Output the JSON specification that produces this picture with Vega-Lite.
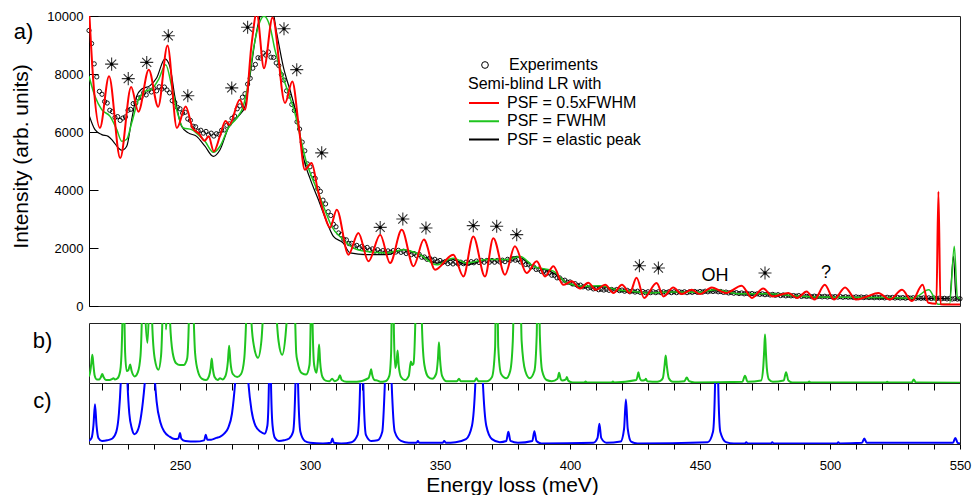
{
"$schema": "https://vega.github.io/schema/vega-lite/v6.json",
"padding": {"left": 10, "top": 9, "right": 12, "bottom": 4},
"background": "white",
"config": {
  "font": "Liberation Sans",
  "view": {"stroke": "#222", "strokeWidth": 1},
  "axis": {"grid": false, "labelColor": "#000", "titleColor": "#000", "tickColor": "#000", "domainColor": "#000", "labelFontSize": 13, "titleFontWeight": "normal"},
  "legend": {"labelColor": "#000", "titleColor": "#000", "labelFontSize": 16, "titleFontSize": 16, "titleFontWeight": "normal", "padding": 0}
},
"datasets": {
"exp": [{"E":215,"I":9500},{"E":216,"I":9050},{"E":217,"I":8350},{"E":218,"I":7900},{"E":219,"I":7400},{"E":220,"I":7300},{"E":221,"I":7050},{"E":222,"I":7000},{"E":223,"I":6750},{"E":224,"I":6700},{"E":225,"I":6500},{"E":226,"I":6530},{"E":227,"I":6400},{"E":228,"I":6480},{"E":229,"I":6520},{"E":230,"I":6750},{"E":231,"I":6780},{"E":232,"I":6980},{"E":233,"I":7000},{"E":234,"I":7170},{"E":235,"I":7200},{"E":236,"I":7350},{"E":237,"I":7280},{"E":238,"I":7450},{"E":239,"I":7380},{"E":240,"I":7500},{"E":241,"I":7420},{"E":242,"I":7560},{"E":243,"I":7480},{"E":244,"I":7550},{"E":245,"I":7450},{"E":246,"I":7350},{"E":247,"I":7080},{"E":248,"I":7020},{"E":249,"I":6850},{"E":250,"I":6800},{"E":251,"I":6650},{"E":252,"I":6680},{"E":253,"I":6450},{"E":254,"I":6400},{"E":255,"I":6200},{"E":256,"I":6180},{"E":257,"I":6030},{"E":258,"I":6060},{"E":259,"I":5960},{"E":260,"I":6020},{"E":261,"I":5900},{"E":262,"I":5960},{"E":263,"I":5860},{"E":264,"I":5940},{"E":265,"I":5920},{"E":266,"I":6060},{"E":267,"I":6070},{"E":268,"I":6230},{"E":269,"I":6280},{"E":270,"I":6470},{"E":271,"I":6550},{"E":272,"I":6800},{"E":273,"I":6900},{"E":274,"I":7200},{"E":275,"I":7320},{"E":276,"I":7650},{"E":277,"I":7850},{"E":278,"I":8200},{"E":279,"I":8330},{"E":280,"I":8560},{"E":281,"I":8550},{"E":282,"I":8720},{"E":283,"I":8650},{"E":284,"I":8760},{"E":285,"I":8580},{"E":286,"I":8570},{"E":287,"I":8380},{"E":288,"I":8290},{"E":289,"I":7980},{"E":290,"I":7790},{"E":291,"I":7420},{"E":292,"I":7240},{"E":293,"I":6950},{"E":294,"I":6740},{"E":295,"I":6350},{"E":296,"I":6100},{"E":297,"I":5650},{"E":298,"I":5350},{"E":299,"I":4900},{"E":300,"I":4800},{"E":301,"I":4530},{"E":302,"I":4400},{"E":303,"I":4050},{"E":304,"I":3950},{"E":305,"I":3650},{"E":306,"I":3520},{"E":307,"I":3250},{"E":308,"I":3120},{"E":309,"I":2820},{"E":310,"I":2730},{"E":311,"I":2520},{"E":312,"I":2460},{"E":313,"I":2300},{"E":314,"I":2280},{"E":315,"I":2150},{"E":316,"I":2160},{"E":317,"I":2060},{"E":318,"I":2090},{"E":319,"I":2010},{"E":320,"I":2060},{"E":321,"I":1970},{"E":322,"I":2020},{"E":323,"I":1930},{"E":324,"I":1970},{"E":325,"I":1890},{"E":326,"I":1940},{"E":327,"I":1860},{"E":328,"I":1910},{"E":329,"I":1850},{"E":330,"I":1900},{"E":331,"I":1850},{"E":332,"I":1910},{"E":333,"I":1860},{"E":334,"I":1920},{"E":335,"I":1850},{"E":336,"I":1890},{"E":337,"I":1810},{"E":338,"I":1850},{"E":339,"I":1770},{"E":340,"I":1810},{"E":341,"I":1740},{"E":342,"I":1780},{"E":343,"I":1680},{"E":344,"I":1690},{"E":345,"I":1610},{"E":346,"I":1650},{"E":347,"I":1580},{"E":348,"I":1610},{"E":349,"I":1540},{"E":350,"I":1570},{"E":351,"I":1500},{"E":352,"I":1530},{"E":353,"I":1460},{"E":354,"I":1510},{"E":355,"I":1450},{"E":356,"I":1510},{"E":357,"I":1450},{"E":358,"I":1510},{"E":359,"I":1460},{"E":360,"I":1510},{"E":361,"I":1470},{"E":362,"I":1530},{"E":363,"I":1490},{"E":364,"I":1550},{"E":365,"I":1500},{"E":366,"I":1570},{"E":367,"I":1510},{"E":368,"I":1570},{"E":369,"I":1510},{"E":370,"I":1570},{"E":371,"I":1510},{"E":372,"I":1570},{"E":373,"I":1520},{"E":374,"I":1580},{"E":375,"I":1530},{"E":376,"I":1610},{"E":377,"I":1570},{"E":378,"I":1630},{"E":379,"I":1580},{"E":380,"I":1600},{"E":381,"I":1520},{"E":382,"I":1520},{"E":383,"I":1430},{"E":384,"I":1440},{"E":385,"I":1350},{"E":386,"I":1350},{"E":387,"I":1260},{"E":388,"I":1270},{"E":389,"I":1190},{"E":390,"I":1200},{"E":391,"I":1130},{"E":392,"I":1140},{"E":393,"I":1060},{"E":394,"I":1060},{"E":395,"I":970},{"E":396,"I":970},{"E":397,"I":890},{"E":398,"I":890},{"E":399,"I":820},{"E":400,"I":830},{"E":401,"I":760},{"E":402,"I":770},{"E":403,"I":700},{"E":404,"I":720},{"E":405,"I":660},{"E":406,"I":680},{"E":407,"I":620},{"E":408,"I":640},{"E":409,"I":590},{"E":410,"I":600},{"E":411,"I":560},{"E":412,"I":580},{"E":413,"I":550},{"E":414,"I":580},{"E":415,"I":540},{"E":416,"I":570},{"E":417,"I":540},{"E":418,"I":570},{"E":419,"I":530},{"E":420,"I":550},{"E":421,"I":510},{"E":422,"I":540},{"E":423,"I":490},{"E":424,"I":520},{"E":425,"I":480},{"E":426,"I":510},{"E":427,"I":470},{"E":428,"I":500},{"E":429,"I":460},{"E":430,"I":490},{"E":431,"I":460},{"E":432,"I":490},{"E":433,"I":460},{"E":434,"I":490},{"E":435,"I":460},{"E":436,"I":490},{"E":437,"I":460},{"E":438,"I":490},{"E":439,"I":460},{"E":440,"I":490},{"E":441,"I":460},{"E":442,"I":490},{"E":443,"I":470},{"E":444,"I":490},{"E":445,"I":460},{"E":446,"I":490},{"E":447,"I":470},{"E":448,"I":500},{"E":449,"I":470},{"E":450,"I":500},{"E":451,"I":480},{"E":452,"I":510},{"E":453,"I":490},{"E":454,"I":520},{"E":455,"I":500},{"E":456,"I":520},{"E":457,"I":490},{"E":458,"I":500},{"E":459,"I":470},{"E":460,"I":480},{"E":461,"I":450},{"E":462,"I":470},{"E":463,"I":440},{"E":464,"I":460},{"E":465,"I":430},{"E":466,"I":450},{"E":467,"I":420},{"E":468,"I":440},{"E":469,"I":410},{"E":470,"I":430},{"E":471,"I":400},{"E":472,"I":420},{"E":473,"I":400},{"E":474,"I":420},{"E":475,"I":390},{"E":476,"I":410},{"E":477,"I":380},{"E":478,"I":400},{"E":479,"I":370},{"E":480,"I":390},{"E":481,"I":360},{"E":482,"I":380},{"E":483,"I":350},{"E":484,"I":370},{"E":485,"I":350},{"E":486,"I":360},{"E":487,"I":340},{"E":488,"I":360},{"E":489,"I":330},{"E":490,"I":350},{"E":491,"I":330},{"E":492,"I":345},{"E":493,"I":320},{"E":494,"I":340},{"E":495,"I":320},{"E":496,"I":335},{"E":497,"I":315},{"E":498,"I":335},{"E":499,"I":310},{"E":500,"I":330},{"E":501,"I":310},{"E":502,"I":325},{"E":503,"I":305},{"E":504,"I":325},{"E":505,"I":300},{"E":506,"I":320},{"E":507,"I":300},{"E":508,"I":315},{"E":509,"I":295},{"E":510,"I":315},{"E":511,"I":295},{"E":512,"I":310},{"E":513,"I":290},{"E":514,"I":310},{"E":515,"I":290},{"E":516,"I":305},{"E":517,"I":285},{"E":518,"I":305},{"E":519,"I":285},{"E":520,"I":300},{"E":521,"I":280},{"E":522,"I":300},{"E":523,"I":280},{"E":524,"I":295},{"E":525,"I":275},{"E":526,"I":295},{"E":527,"I":275},{"E":528,"I":290},{"E":529,"I":270},{"E":530,"I":290},{"E":531,"I":270},{"E":532,"I":285},{"E":533,"I":265},{"E":534,"I":285},{"E":535,"I":265},{"E":536,"I":280},{"E":537,"I":260},{"E":538,"I":280},{"E":539,"I":260},{"E":540,"I":275},{"E":541,"I":255},{"E":542,"I":270},{"E":543,"I":250},{"E":544,"I":265},{"E":545,"I":245},{"E":546,"I":260},{"E":547,"I":240},{"E":548,"I":255},{"E":549,"I":240},{"E":550,"I":250}],
"red": [{"E":215,"I":10300},{"E":216.7,"I":7700},{"E":219.2,"I":6140},{"E":222.7,"I":7920},{"E":227,"I":5100},{"E":231.2,"I":7550},{"E":234,"I":6700},{"E":238,"I":8150},{"E":241.6,"I":6870},{"E":245.2,"I":8980},{"E":248.8,"I":6140},{"E":252.2,"I":6880},{"E":254.8,"I":6150},{"E":257.3,"I":5950},{"E":259.5,"I":5700},{"E":261,"I":5850},{"E":263,"I":5330},{"E":265.5,"I":5900},{"E":267.5,"I":6380},{"E":269,"I":6250},{"E":273,"I":7110},{"E":275,"I":6770},{"E":277.5,"I":9000},{"E":279.5,"I":10100},{"E":282.3,"I":8200},{"E":285.6,"I":9950},{"E":290.4,"I":7000},{"E":293.2,"I":7740},{"E":295.8,"I":6100},{"E":298,"I":4700},{"E":300.6,"I":4930},{"E":303,"I":4000},{"E":305.5,"I":3150},{"E":307.7,"I":2700},{"E":310.3,"I":3320},{"E":314.8,"I":1770},{"E":318.6,"I":2520},{"E":322.5,"I":1540},{"E":327,"I":2460},{"E":330.8,"I":1480},{"E":335.3,"I":2630},{"E":339.8,"I":1370},{"E":343.8,"I":2290},{"E":348.1,"I":1250},{"E":355.1,"I":1770},{"E":359,"I":1020},{"E":362.8,"I":2400},{"E":367.3,"I":1020},{"E":370.5,"I":2340},{"E":375,"I":1080},{"E":378.8,"I":2060},{"E":383.3,"I":1140},{"E":387.2,"I":1540},{"E":390.4,"I":1020},{"E":393.6,"I":1370},{"E":397.4,"I":730},{"E":400.7,"I":850},{"E":403.8,"I":600},{"E":407,"I":800},{"E":410,"I":560},{"E":413.5,"I":730},{"E":416.7,"I":450},{"E":420,"I":730},{"E":423,"I":450},{"E":425.6,"I":970},{"E":428.5,"I":280},{"E":433.3,"I":790},{"E":436,"I":330},{"E":439.7,"I":640},{"E":443,"I":410},{"E":446.8,"I":560},{"E":450,"I":410},{"E":454.5,"I":640},{"E":460,"I":450},{"E":466,"I":700},{"E":470,"I":280},{"E":474.3,"I":600},{"E":478,"I":330},{"E":484,"I":450},{"E":487.4,"I":280},{"E":491,"I":500},{"E":494,"I":220},{"E":498,"I":730},{"E":501.5,"I":220},{"E":505.8,"I":640},{"E":510,"I":220},{"E":514,"I":320},{"E":518.6,"I":450},{"E":523,"I":220},{"E":527.7,"I":560},{"E":531.5,"I":170},{"E":535.6,"I":730},{"E":537.8,"I":110},{"E":540.9,"I":80},{"E":541.7,"I":3950},{"E":542.5,"I":60},{"E":545,"I":50},{"E":550,"I":50}],
"green": [{"E":215,"I":7920},{"E":217.3,"I":7230},{"E":219.9,"I":6770},{"E":223.1,"I":6540},{"E":225.7,"I":6080},{"E":227.6,"I":5680},{"E":229.5,"I":5750},{"E":231.4,"I":6310},{"E":234,"I":7110},{"E":236.5,"I":7400},{"E":239.1,"I":7480},{"E":241.7,"I":7800},{"E":244.5,"I":8320},{"E":246.8,"I":7570},{"E":248.7,"I":6770},{"E":251.3,"I":6140},{"E":254.5,"I":6080},{"E":257,"I":5910},{"E":259.6,"I":5680},{"E":262.8,"I":5300},{"E":265.4,"I":5510},{"E":268.6,"I":6140},{"E":271.8,"I":6480},{"E":274.3,"I":6880},{"E":276.3,"I":7690},{"E":278.2,"I":8840},{"E":280.1,"I":9640},{"E":282.3,"I":9990},{"E":284.6,"I":9640},{"E":286.5,"I":8840},{"E":289.1,"I":8030},{"E":291.7,"I":7340},{"E":294.2,"I":6650},{"E":296.8,"I":5620},{"E":298.7,"I":4930},{"E":300.6,"I":4470},{"E":303.2,"I":3900},{"E":306,"I":3250},{"E":308.3,"I":2750},{"E":312.8,"I":2290},{"E":316.7,"I":2000},{"E":321.8,"I":1880},{"E":329.5,"I":1830},{"E":335.9,"I":1940},{"E":342.3,"I":1770},{"E":348.7,"I":1420},{"E":355.1,"I":1650},{"E":360.3,"I":1480},{"E":368,"I":1600},{"E":375.6,"I":1600},{"E":380.8,"I":1710},{"E":385.9,"I":1370},{"E":393.6,"I":1200},{"E":398.7,"I":800},{"E":405,"I":680},{"E":411.5,"I":700},{"E":418,"I":560},{"E":424.3,"I":500},{"E":429.5,"I":450},{"E":440,"I":480},{"E":450,"I":470},{"E":456,"I":560},{"E":465,"I":420},{"E":475,"I":420},{"E":490,"I":330},{"E":505,"I":300},{"E":520,"I":290},{"E":532,"I":270},{"E":538,"I":560},{"E":540,"I":300},{"E":541.5,"I":60},{"E":546,"I":60},{"E":547.8,"I":2060},{"E":549,"I":300},{"E":550,"I":250}],
"black": [{"E":215,"I":6590},{"E":217.3,"I":6080},{"E":219.9,"I":5910},{"E":222.4,"I":5850},{"E":224.3,"I":5680},{"E":226.3,"I":5450},{"E":227.6,"I":5370},{"E":229.5,"I":5510},{"E":231.4,"I":6420},{"E":233.3,"I":7230},{"E":235.3,"I":7480},{"E":238.5,"I":7600},{"E":241,"I":7860},{"E":244.2,"I":8520},{"E":246.1,"I":8260},{"E":248,"I":7230},{"E":250.6,"I":6200},{"E":253.2,"I":5970},{"E":256.4,"I":5850},{"E":259.6,"I":5510},{"E":262.8,"I":5160},{"E":265.4,"I":5390},{"E":268.6,"I":6140},{"E":272.4,"I":6540},{"E":275,"I":6880},{"E":276.9,"I":7920},{"E":278.9,"I":9180},{"E":280.8,"I":10000},{"E":283,"I":10400},{"E":285.3,"I":10300},{"E":287.2,"I":9410},{"E":289.7,"I":8260},{"E":293,"I":7230},{"E":295.5,"I":6310},{"E":297.4,"I":5160},{"E":300,"I":4400},{"E":303.2,"I":3670},{"E":306,"I":3000},{"E":309,"I":2400},{"E":312.8,"I":2170},{"E":315.4,"I":1830},{"E":321.8,"I":1770},{"E":329.5,"I":1770},{"E":335.9,"I":1940},{"E":342.3,"I":1770},{"E":348.7,"I":1480},{"E":355.1,"I":1600},{"E":360.3,"I":1420},{"E":368,"I":1600},{"E":375.6,"I":1600},{"E":379.5,"I":1710},{"E":385.9,"I":1370},{"E":393.6,"I":1140},{"E":398.7,"I":800},{"E":405,"I":650},{"E":411.5,"I":680},{"E":418,"I":540},{"E":424.3,"I":480},{"E":430,"I":460},{"E":440,"I":480},{"E":450,"I":460},{"E":456,"I":530},{"E":465,"I":420},{"E":475,"I":420},{"E":490,"I":320},{"E":505,"I":290},{"E":520,"I":270},{"E":535,"I":250},{"E":540,"I":260},{"E":546,"I":250},{"E":547.5,"I":1710},{"E":548.5,"I":250},{"E":550,"I":240}],
"stars": [{"E":223.7,"I":8340},{"E":230.1,"I":7840},{"E":237.2,"I":8400},{"E":245.5,"I":9320},{"E":253,"I":7250},{"E":269.9,"I":7520},{"E":276,"I":9610},{"E":290,"I":9560},{"E":294.9,"I":8150},{"E":304.5,"I":5280},{"E":327,"I":2710},{"E":335.7,"I":3000},{"E":344.6,"I":2690},{"E":362.8,"I":2770},{"E":371.8,"I":2750},{"E":379.5,"I":2460},{"E":426.7,"I":1390},{"E":434,"I":1310},{"E":475,"I":1140}],
"notes": [{"E":455.8,"I":1020,"t":"OH"},{"E":498.5,"I":1140,"t":"?"}],
"peaksB": [{"E":215,"S":0.11},{"E":215.5,"S":0.2},{"E":215.9,"S":0.33},{"E":216.3,"S":0.47},{"E":216.7,"S":0.3},{"E":217.2,"S":0.12},{"E":218,"S":0.06},{"E":219,"S":0.06},{"E":219.6,"S":0.1},{"E":220.1,"S":0.15},{"E":220.6,"S":0.1},{"E":221.5,"S":0.05},{"E":223,"S":0.05},{"E":224,"S":0.07},{"E":224.4,"S":0.08},{"E":225,"S":0.06},{"E":226,"S":0.08},{"E":227,"S":0.2},{"E":227.6,"S":0.6},{"E":228,"S":1.5},{"E":228.2,"S":2.5},{"E":228.5,"S":1.5},{"E":228.9,"S":0.5},{"E":229.5,"S":0.2},{"E":230.2,"S":0.22},{"E":230.8,"S":0.31},{"E":231.4,"S":0.2},{"E":232.6,"S":0.11},{"E":233.8,"S":0.18},{"E":234.8,"S":0.45},{"E":235.4,"S":1.2},{"E":235.9,"S":2.5},{"E":236.6,"S":1.2},{"E":237.5,"S":0.67},{"E":238.1,"S":1.3},{"E":238.7,"S":2.5},{"E":239.3,"S":1},{"E":240.3,"S":0.4},{"E":241.7,"S":0.22},{"E":242.7,"S":0.45},{"E":243.3,"S":1.2},{"E":243.8,"S":2.5},{"E":244.6,"S":0.89},{"E":245.1,"S":1.3},{"E":245.6,"S":2},{"E":246.2,"S":1},{"E":247.2,"S":0.5},{"E":248.5,"S":0.33},{"E":250,"S":0.3},{"E":251.5,"S":0.3},{"E":252.1,"S":0.33},{"E":252.8,"S":0.42},{"E":253.5,"S":1.2},{"E":254.2,"S":3},{"E":255,"S":1.5},{"E":255.8,"S":0.5},{"E":257,"S":0.18},{"E":258.5,"S":0.07},{"E":260,"S":0.05},{"E":261.2,"S":0.12},{"E":261.8,"S":0.25},{"E":262.2,"S":0.41},{"E":262.6,"S":0.25},{"E":263.3,"S":0.1},{"E":264.5,"S":0.05},{"E":265.4,"S":0.08},{"E":266.3,"S":0.06},{"E":267.5,"S":0.12},{"E":268.4,"S":0.35},{"E":268.9,"S":0.62},{"E":269.4,"S":0.35},{"E":270.3,"S":0.15},{"E":272,"S":0.1},{"E":273.5,"S":0.15},{"E":274.7,"S":0.4},{"E":275.4,"S":1},{"E":276.3,"S":2.5},{"E":277.5,"S":1},{"E":278.5,"S":0.6},{"E":280,"S":0.42},{"E":281.3,"S":0.7},{"E":282,"S":1.2},{"E":283.5,"S":3},{"E":285.3,"S":3},{"E":287,"S":1.2},{"E":287.9,"S":0.7},{"E":289.3,"S":0.47},{"E":290.6,"S":0.8},{"E":291.4,"S":1.3},{"E":292.8,"S":3},{"E":294.2,"S":1.2},{"E":294.7,"S":0.5},{"E":295.2,"S":0.36},{"E":296,"S":0.22},{"E":297,"S":0.16},{"E":298.5,"S":0.14},{"E":299.8,"S":0.3},{"E":300.3,"S":1.2},{"E":300.6,"S":2.5},{"E":300.9,"S":1.2},{"E":301.6,"S":0.3},{"E":302.5,"S":0.17},{"E":303.1,"S":0.4},{"E":303.5,"S":0.64},{"E":303.9,"S":0.35},{"E":304.8,"S":0.1},{"E":306,"S":0.04},{"E":307.5,"S":0.03},{"E":308.5,"S":0.07},{"E":309.5,"S":0.03},{"E":310.8,"S":0.06},{"E":311.5,"S":0.13},{"E":312.2,"S":0.05},{"E":314,"S":0.02},{"E":318,"S":0.02},{"E":322.5,"S":0.08},{"E":323.1,"S":0.16},{"E":323.5,"S":0.23},{"E":323.9,"S":0.14},{"E":324.8,"S":0.05},{"E":326,"S":0.04},{"E":327,"S":0.02},{"E":329,"S":0.03},{"E":330.5,"S":0.12},{"E":331.2,"S":0.5},{"E":331.8,"S":2.5},{"E":332.3,"S":0.8},{"E":332.8,"S":0.25},{"E":333.3,"S":0.35},{"E":333.7,"S":0.54},{"E":334.1,"S":0.3},{"E":335,"S":0.1},{"E":336.5,"S":0.05},{"E":338,"S":0.12},{"E":338.8,"S":0.36},{"E":339.3,"S":0.3},{"E":339.8,"S":0.32},{"E":340.5,"S":1},{"E":341.3,"S":3},{"E":342.3,"S":3},{"E":343.1,"S":0.9},{"E":344,"S":0.3},{"E":345.5,"S":0.1},{"E":347,"S":0.07},{"E":348.5,"S":0.15},{"E":349.2,"S":0.4},{"E":349.6,"S":0.68},{"E":350,"S":0.4},{"E":350.8,"S":0.12},{"E":352.5,"S":0.03},{"E":356.5,"S":0.03},{"E":357.3,"S":0.07},{"E":358,"S":0.03},{"E":363.3,"S":0.03},{"E":364,"S":0.08},{"E":364.7,"S":0.03},{"E":368,"S":0.03},{"E":370,"S":0.1},{"E":371.2,"S":0.6},{"E":371.8,"S":3},{"E":372.4,"S":0.6},{"E":373.5,"S":0.15},{"E":375.5,"S":0.08},{"E":377,"S":0.2},{"E":378,"S":0.7},{"E":379.2,"S":3},{"E":380.4,"S":3},{"E":381.4,"S":0.7},{"E":382.8,"S":0.2},{"E":384.5,"S":0.08},{"E":386.3,"S":0.2},{"E":387.2,"S":0.8},{"E":387.8,"S":3},{"E":388.4,"S":0.8},{"E":389.3,"S":0.2},{"E":391,"S":0.05},{"E":393,"S":0.03},{"E":395.2,"S":0.07},{"E":395.8,"S":0.17},{"E":396.4,"S":0.07},{"E":397,"S":0.04},{"E":398.4,"S":0.06},{"E":398.8,"S":0.1},{"E":399.3,"S":0.04},{"E":401,"S":0.01},{"E":405.5,"S":0.01},{"E":406,"S":0.025},{"E":406.5,"S":0.01},{"E":416,"S":0.01},{"E":416.5,"S":0.025},{"E":417,"S":0.01},{"E":425.5,"S":0.05},{"E":426,"S":0.12},{"E":426.3,"S":0.18},{"E":426.7,"S":0.1},{"E":427.6,"S":0.04},{"E":428.8,"S":0.05},{"E":429.2,"S":0.07},{"E":429.7,"S":0.03},{"E":433.6,"S":0.02},{"E":434.5,"S":0.03},{"E":435.7,"S":0.08},{"E":436.4,"S":0.3},{"E":436.8,"S":0.46},{"E":437.2,"S":0.3},{"E":438,"S":0.08},{"E":439.5,"S":0.02},{"E":444,"S":0.03},{"E":444.9,"S":0.09},{"E":445.8,"S":0.03},{"E":448,"S":0.01},{"E":466.3,"S":0.02},{"E":467.3,"S":0.12},{"E":468.3,"S":0.02},{"E":473.5,"S":0.04},{"E":474.3,"S":0.25},{"E":474.7,"S":0.55},{"E":475,"S":0.81},{"E":475.3,"S":0.55},{"E":475.7,"S":0.25},{"E":476.5,"S":0.06},{"E":478,"S":0.02},{"E":482.2,"S":0.04},{"E":483.1,"S":0.18},{"E":484,"S":0.04},{"E":485.5,"S":0.01},{"E":491.5,"S":0.01},{"E":492,"S":0.025},{"E":492.5,"S":0.01},{"E":521.5,"S":0.01},{"E":522,"S":0.02},{"E":522.5,"S":0.01},{"E":531.5,"S":0.01},{"E":532.2,"S":0.06},{"E":533,"S":0.01},{"E":550,"S":0.005}],
"peaksC": [{"E":215,"S":0.05},{"E":216,"S":0.1},{"E":216.7,"S":0.3},{"E":217.3,"S":0.65},{"E":217.9,"S":0.3},{"E":218.6,"S":0.1},{"E":220,"S":0.05},{"E":222,"S":0.06},{"E":224,"S":0.09},{"E":225.5,"S":0.2},{"E":226.5,"S":0.5},{"E":227.2,"S":1},{"E":228.5,"S":3},{"E":229.8,"S":1},{"E":230.5,"S":0.5},{"E":231.5,"S":0.25},{"E":232.5,"S":0.16},{"E":233.5,"S":0.2},{"E":234.8,"S":0.4},{"E":236,"S":0.8},{"E":236.8,"S":1.2},{"E":238.5,"S":3},{"E":240.1,"S":1.2},{"E":241,"S":0.7},{"E":242.5,"S":0.35},{"E":244,"S":0.2},{"E":246,"S":0.12},{"E":248,"S":0.08},{"E":249.4,"S":0.09},{"E":250,"S":0.18},{"E":250.5,"S":0.09},{"E":252,"S":0.05},{"E":256,"S":0.04},{"E":259.3,"S":0.06},{"E":259.9,"S":0.15},{"E":260.5,"S":0.07},{"E":262,"S":0.07},{"E":264,"S":0.1},{"E":265.5,"S":0.12},{"E":267,"S":0.17},{"E":268.5,"S":0.26},{"E":270,"S":0.5},{"E":271.2,"S":1},{"E":273.8,"S":3},{"E":276.3,"S":1},{"E":277.5,"S":0.55},{"E":279,"S":0.3},{"E":281,"S":0.2},{"E":282.5,"S":0.17},{"E":283.6,"S":0.3},{"E":284.2,"S":1},{"E":284.6,"S":3},{"E":285,"S":1},{"E":285.6,"S":0.3},{"E":286.5,"S":0.1},{"E":288,"S":0.05},{"E":290,"S":0.06},{"E":292,"S":0.09},{"E":293.5,"S":0.2},{"E":294.4,"S":1},{"E":294.9,"S":3},{"E":295.4,"S":1},{"E":296.3,"S":0.2},{"E":298,"S":0.05},{"E":300,"S":0.02},{"E":305,"S":0.01},{"E":308,"S":0.02},{"E":308.6,"S":0.09},{"E":309.2,"S":0.02},{"E":312,"S":0.01},{"E":316,"S":0.03},{"E":318.3,"S":0.15},{"E":319.3,"S":1},{"E":319.9,"S":3},{"E":320.5,"S":1},{"E":321.5,"S":0.15},{"E":323.5,"S":0.05},{"E":326,"S":0.06},{"E":327.8,"S":0.2},{"E":328.8,"S":1},{"E":330.1,"S":3},{"E":331.4,"S":1},{"E":332.6,"S":0.2},{"E":335,"S":0.05},{"E":338,"S":0.02},{"E":341,"S":0.02},{"E":341.5,"S":0.05},{"E":342,"S":0.02},{"E":351.1,"S":0.02},{"E":351.6,"S":0.05},{"E":352.2,"S":0.02},{"E":356,"S":0.03},{"E":360,"S":0.08},{"E":362.3,"S":0.3},{"E":363.6,"S":1},{"E":365,"S":3},{"E":366.5,"S":1},{"E":367.8,"S":0.3},{"E":370,"S":0.08},{"E":373,"S":0.03},{"E":375.5,"S":0.05},{"E":376.3,"S":0.2},{"E":377.1,"S":0.05},{"E":380,"S":0.02},{"E":385.5,"S":0.05},{"E":386.3,"S":0.21},{"E":387.1,"S":0.05},{"E":389,"S":0.01},{"E":409,"S":0.02},{"E":410.6,"S":0.1},{"E":411.3,"S":0.33},{"E":412,"S":0.1},{"E":414,"S":0.02},{"E":419.5,"S":0.04},{"E":420.8,"S":0.25},{"E":421.5,"S":0.73},{"E":422.2,"S":0.25},{"E":423.5,"S":0.04},{"E":426,"S":0.01},{"E":453,"S":0.03},{"E":455,"S":0.2},{"E":455.8,"S":1},{"E":456.4,"S":3},{"E":457,"S":1},{"E":457.8,"S":0.2},{"E":460,"S":0.03},{"E":463,"S":0.01},{"E":467.3,"S":0.01},{"E":467.8,"S":0.03},{"E":468.3,"S":0.01},{"E":477.3,"S":0.01},{"E":477.8,"S":0.03},{"E":478.3,"S":0.01},{"E":502.7,"S":0.01},{"E":503.2,"S":0.03},{"E":503.7,"S":0.01},{"E":512.3,"S":0.02},{"E":513.2,"S":0.09},{"E":514.1,"S":0.02},{"E":547.3,"S":0.02},{"E":548.2,"S":0.1},{"E":549.1,"S":0.02},{"E":550,"S":0.01}]
},
"spacing": 17,
"bounds": "flush",
"resolve": {"scale": {"x": "independent", "y": "independent"}, "axis": {"x": "independent", "y": "independent"}, "legend": {"color": "independent", "shape": "independent"}},
"vconcat": [
{
  "width": 871, "height": 290,
  "encoding": {
    "x": {"field": "E", "type": "quantitative", "scale": {"domain": [215, 550], "nice": false, "zero": false},
      "axis": {"orient": "top", "labels": false, "ticks": false, "domain": false, "title": "a)", "titleFontSize": 22, "titleAngle": 0, "titleX": -66, "titleY": 15, "titleAlign": "center", "titleBaseline": "middle"}},
    "y": {"field": "I", "type": "quantitative", "scale": {"domain": [0, 10000], "nice": false},
      "axis": {"values": [0, 2000, 4000, 6000, 8000, 10000], "tickSize": -9, "labelPadding": 15, "title": "Intensity (arb. units)", "titleFontSize": 21, "titlePadding": 15, "titleY": 140, "format": "d"}}
  },
  "layer": [
    {"data": {"name": "exp"},
     "mark": {"type": "point", "filled": false, "size": 18, "strokeWidth": 0.9, "color": "#000", "opacity": 1},
     "encoding": {"shape": {"datum": "Experiments", "type": "nominal", "scale": {"domain": ["Experiments"], "range": ["circle"]},
        "legend": {"orient": "none", "legendX": 388, "legendY": 41, "title": null, "symbolSize": 45, "symbolStrokeColor": "#000", "symbolFillColor": "transparent", "symbolStrokeWidth": 1, "labelOffset": 16}}}},
    {"data": {"name": "black"},
     "mark": {"type": "line", "clip": true, "interpolate": "monotone", "strokeWidth": 1.2},
     "encoding": {"color": {"datum": "PSF = elastic peak", "type": "nominal",
        "scale": {"domain": ["PSF = 0.5xFWHM", "PSF = FWHM", "PSF = elastic peak"], "range": ["#ff0000", "#1fc41f", "#000000"]},
        "legend": {"orient": "none", "legendX": 379, "legendY": 60, "title": "Semi-blind LR with", "titlePadding": 3, "symbolType": "stroke", "symbolSize": 900, "symbolStrokeWidth": 2, "clipHeight": 16, "labelOffset": 7, "rowPadding": 2.3, "titleLimit": 0, "labelLimit": 0}}}},
    {"data": {"name": "green"},
     "mark": {"type": "line", "clip": true, "interpolate": "monotone", "strokeWidth": 1.5},
     "encoding": {"color": {"datum": "PSF = FWHM", "type": "nominal"}}},
    {"data": {"name": "red"},
     "mark": {"type": "line", "clip": true, "interpolate": "monotone", "strokeWidth": 2},
     "encoding": {"color": {"datum": "PSF = 0.5xFWHM", "type": "nominal"}}},
    {"data": {"name": "stars"},
     "mark": {"type": "point", "shape": "M-1,0L1,0M0,-1L0,1M-0.7,-0.7L0.7,0.7M-0.7,0.7L0.7,-0.7", "size": 170, "filled": false, "stroke": "#333", "strokeWidth": 1.1, "opacity": 1}},
    {"data": {"name": "stars"},
     "mark": {"type": "circle", "size": 10, "color": "#000", "opacity": 1}},
    {"data": {"name": "notes"},
     "mark": {"type": "text", "fontSize": 18, "color": "#000", "baseline": "middle"},
     "encoding": {"text": {"field": "t"}}}
  ]
},
{
  "spacing": 0,
  "bounds": "flush",
  "resolve": {"scale": {"x": "independent", "y": "independent"}, "axis": {"x": "independent", "y": "independent"}},
  "vconcat": [
    {
      "width": 871, "height": 60,
      "data": {"name": "peaksB"},
      "mark": {"type": "line", "interpolate": "monotone", "clip": true, "color": "#1fc41f", "strokeWidth": 2},
      "encoding": {
        "x": {"field": "E", "type": "quantitative", "scale": {"domain": [215, 550], "nice": false, "zero": false},
          "axis": {"values": [220,230,240,250,260,270,280,290,300,310,320,330,340,350,360,370,380,390,400,410,420,430,440,450,460,470,480,490,500,510,520,530,540,550], "tickSize": 7, "labels": false, "domain": false, "title": null}},
        "y": {"field": "S", "type": "quantitative", "scale": {"domain": [0, 1], "nice": false},
          "axis": {"title": "b)", "labels": false, "ticks": false, "domain": false, "titleFontSize": 22, "titleAngle": 0, "titleX": -47, "titleY": 17, "titleAlign": "center", "titleBaseline": "middle"}}
      }
    },
    {
      "width": 871, "height": 61,
      "data": {"name": "peaksC"},
      "mark": {"type": "line", "interpolate": "monotone", "clip": true, "color": "#0000ff", "strokeWidth": 2},
      "encoding": {
        "x": {"field": "E", "type": "quantitative", "scale": {"domain": [215, 550], "nice": false, "zero": false},
          "axis": {"values": [220,230,240,250,260,270,280,290,300,310,320,330,340,350,360,370,380,390,400,410,420,430,440,450,460,470,480,490,500,510,520,530,540,550], "tickSize": 5, "labelExpr": "datum.value % 50 === 0 ? datum.label : ''", "labelFlush": false, "labelOverlap": false, "labelPadding": 10, "domain": false, "title": "Energy loss (meV)", "titleFontSize": 21, "titlePadding": 2, "titleX": 423,
            "encode": {"ticks": {"update": {"y2": {"signal": "datum.value % 50 === 0 ? 9 : 5"}}}}}},
        "y": {"field": "S", "type": "quantitative", "scale": {"domain": [0, 1], "nice": false},
          "axis": {"title": "c)", "labels": false, "ticks": false, "domain": false, "titleFontSize": 22, "titleAngle": 0, "titleX": -47, "titleY": 17, "titleAlign": "center", "titleBaseline": "middle"}}
      }
    }
  ]
}
]
}
